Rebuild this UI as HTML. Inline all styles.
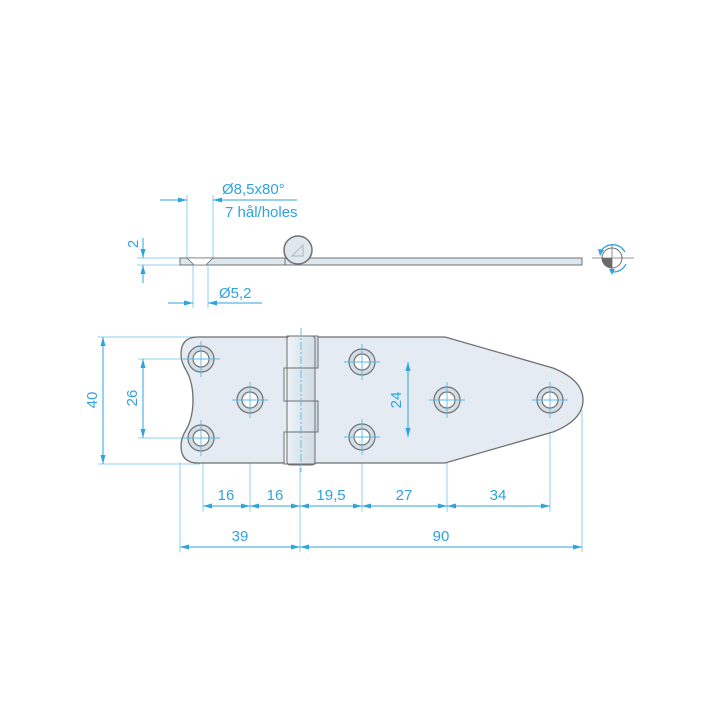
<!DOCTYPE html>
<html><head><meta charset="utf-8"><style>
html,body{margin:0;padding:0;background:#fff;width:720px;height:720px;overflow:hidden}
text{font-family:"Liberation Sans",sans-serif;fill:#2ea3dd;font-size:15px}
</style></head><body>
<svg width="720" height="720" viewBox="0 0 720 720" xmlns="http://www.w3.org/2000/svg">
<defs>
<marker id="a" viewBox="0 0 9 5" refX="9" refY="2.5" markerWidth="9" markerHeight="5" orient="auto-start-reverse" markerUnits="userSpaceOnUse"><path d="M0,0 L9,2.5 L0,5 z" fill="#2ea3dd"/></marker>
<linearGradient id="kg" x1="0" x2="1"><stop offset="0" stop-color="#f0f5f8"/><stop offset="0.4" stop-color="#e0e9f0"/><stop offset="1" stop-color="#d0dce5"/></linearGradient>
</defs>
<g stroke="#8fd0ef" stroke-width="1" fill="none">
<line x1="187" y1="195" x2="187" y2="258"/><line x1="213" y1="195" x2="213" y2="258"/>
<line x1="193" y1="266" x2="193" y2="308"/><line x1="208" y1="266" x2="208" y2="308"/>
<line x1="137" y1="258" x2="180" y2="258"/><line x1="137" y1="265" x2="180" y2="265"/>
<line x1="98" y1="337" x2="200" y2="337"/><line x1="98" y1="464" x2="200" y2="464"/>
<line x1="138" y1="359" x2="190" y2="359"/><line x1="138" y1="438" x2="190" y2="438"/>
<line x1="375" y1="362" x2="413" y2="362"/><line x1="375" y1="437" x2="413" y2="437"/>
<line x1="203" y1="450" x2="203" y2="512"/><line x1="250" y1="412" x2="250" y2="512"/>
<line x1="362" y1="450" x2="362" y2="512"/><line x1="447" y1="412" x2="447" y2="512"/>
<line x1="550" y1="412" x2="550" y2="512"/><line x1="582" y1="410" x2="582" y2="552"/>
<line x1="180" y1="462" x2="180" y2="552"/><line x1="300" y1="465" x2="300" y2="552"/>
</g>
<rect x="180" y="258" width="402" height="7" fill="#dde7ef" stroke="#707070" stroke-width="1"/>
<path d="M187,258 L213,258 L206,265 L194,265 Z" fill="#fff" stroke="#707070" stroke-width="0.8"/>
<line x1="285" y1="258" x2="285" y2="265" stroke="#707070"/>
<circle cx="298" cy="250" r="14" fill="#dfe8ef" stroke="#707070" stroke-width="1.5"/>
<path d="M292,256 L303,245 L303,256 Z" fill="none" stroke="#a9b8c3" stroke-width="1"/>
<g>
<line x1="592" y1="258" x2="634" y2="258" stroke="#707070" stroke-width="0.8"/>
<line x1="612" y1="245" x2="612" y2="272" stroke="#707070" stroke-width="0.8"/>
<circle cx="612" cy="258" r="10" fill="none" stroke="#707070" stroke-width="1"/>
<path d="M612,258 L602,258 A10,10 0 0,0 612,268 Z" fill="#6b6b6b"/>
<path d="M601,251 A14,14 0 0,1 625,252" fill="none" stroke="#2ea3dd" stroke-width="1.3"/>
<path d="M626,264 A14,14 0 0,1 613,272" fill="none" stroke="#2ea3dd" stroke-width="1.3"/>
<path d="M598,249 L604,250 L600,256 Z" fill="#2ea3dd"/>
<path d="M609,269 L615,269 L612,275 Z" fill="#2ea3dd"/>
</g>
<path d="M198,337 L445,337 L553,368 Q583,380 583,400 Q583,420 553,432 L445,463 L198,463 Q181,463 181,446 Q181,438 186,430 Q193,418 193,400 Q193,382 186,370 Q181,362 181,354 Q181,337 198,337 Z" fill="#e4ebf2" stroke="#6f6f6f" stroke-width="1.3"/>
<g stroke="#6f6f6f" stroke-width="1" fill="url(#kg)">
<rect x="284" y="368" width="31" height="33"/>
<rect x="284" y="432" width="31" height="32"/>
<rect x="287" y="336" width="31" height="32"/>
<rect x="287" y="401" width="31" height="31"/>
<rect x="287" y="336" width="28" height="129" rx="3" fill="none"/>
</g>
<g stroke="#6f6f6f" stroke-width="1.2">
<circle cx="201" cy="359" r="13" fill="#d3dde6"/><circle cx="201" cy="359" r="8" fill="#fff"/>
<circle cx="201" cy="438" r="13" fill="#d3dde6"/><circle cx="201" cy="438" r="8" fill="#fff"/>
<circle cx="250" cy="400" r="13" fill="#d3dde6"/><circle cx="250" cy="400" r="8" fill="#fff"/>
<circle cx="362" cy="362" r="13" fill="#d3dde6"/><circle cx="362" cy="362" r="8" fill="#fff"/>
<circle cx="362" cy="437" r="13" fill="#d3dde6"/><circle cx="362" cy="437" r="8" fill="#fff"/>
<circle cx="447" cy="400" r="13" fill="#d3dde6"/><circle cx="447" cy="400" r="8" fill="#fff"/>
<circle cx="550" cy="400" r="13" fill="#d3dde6"/><circle cx="550" cy="400" r="8" fill="#fff"/>
</g>
<g stroke="#5ab8e6" stroke-width="0.9">
<line x1="183" y1="359" x2="220" y2="359"/><line x1="201" y1="341" x2="201" y2="377"/>
<line x1="183" y1="438" x2="220" y2="438"/><line x1="201" y1="420" x2="201" y2="456"/>
<line x1="232" y1="400" x2="268" y2="400"/><line x1="250" y1="382" x2="250" y2="418"/>
<line x1="344" y1="362" x2="380" y2="362"/><line x1="362" y1="344" x2="362" y2="380"/>
<line x1="344" y1="437" x2="380" y2="437"/><line x1="362" y1="419" x2="362" y2="455"/>
<line x1="429" y1="400" x2="465" y2="400"/><line x1="447" y1="382" x2="447" y2="418"/>
<line x1="532" y1="400" x2="568" y2="400"/><line x1="550" y1="382" x2="550" y2="418"/>
<line x1="301" y1="328" x2="301" y2="472" stroke-dasharray="8,2,2,2"/>
</g>
<g stroke="#2ea3dd" stroke-width="1" fill="none">
<line x1="160" y1="200" x2="187" y2="200" marker-end="url(#a)"/>
<line x1="213" y1="200" x2="297" y2="200" marker-start="url(#a)"/>
<line x1="168" y1="303" x2="193" y2="303" marker-end="url(#a)"/>
<line x1="208" y1="303" x2="262" y2="303" marker-start="url(#a)"/>
<line x1="143" y1="238" x2="143" y2="258" marker-end="url(#a)"/>
<line x1="143" y1="265" x2="143" y2="283" marker-start="url(#a)"/>
<line x1="103" y1="337" x2="103" y2="464" marker-start="url(#a)" marker-end="url(#a)"/>
<line x1="143" y1="359" x2="143" y2="438" marker-start="url(#a)" marker-end="url(#a)"/>
<line x1="408" y1="362" x2="408" y2="437" marker-start="url(#a)" marker-end="url(#a)"/>
<line x1="203" y1="506" x2="250" y2="506" marker-start="url(#a)" marker-end="url(#a)"/>
<line x1="250" y1="506" x2="300" y2="506" marker-start="url(#a)" marker-end="url(#a)"/>
<line x1="300" y1="506" x2="362" y2="506" marker-start="url(#a)" marker-end="url(#a)"/>
<line x1="362" y1="506" x2="447" y2="506" marker-start="url(#a)" marker-end="url(#a)"/>
<line x1="447" y1="506" x2="550" y2="506" marker-start="url(#a)" marker-end="url(#a)"/>
<line x1="180" y1="547" x2="300" y2="547" marker-start="url(#a)" marker-end="url(#a)"/>
<line x1="300" y1="547" x2="582" y2="547" marker-start="url(#a)" marker-end="url(#a)"/>
</g>
<text x="222" y="194">Ø8,5x80°</text>
<text x="225" y="217">7 hål/holes</text>
<text x="219" y="298">Ø5,2</text>
<text transform="translate(138,244) rotate(-90)" text-anchor="middle" font-size="13">2</text>
<text transform="translate(97,400) rotate(-90)" text-anchor="middle">40</text>
<text transform="translate(137,398) rotate(-90)" text-anchor="middle">26</text>
<text transform="translate(401,400) rotate(-90)" text-anchor="middle">24</text>
<text x="226" y="500" text-anchor="middle">16</text>
<text x="275" y="500" text-anchor="middle">16</text>
<text x="331" y="500" text-anchor="middle">19,5</text>
<text x="404" y="500" text-anchor="middle">27</text>
<text x="498" y="500" text-anchor="middle">34</text>
<text x="240" y="541" text-anchor="middle">39</text>
<text x="441" y="541" text-anchor="middle">90</text>
</svg>
</body></html>
